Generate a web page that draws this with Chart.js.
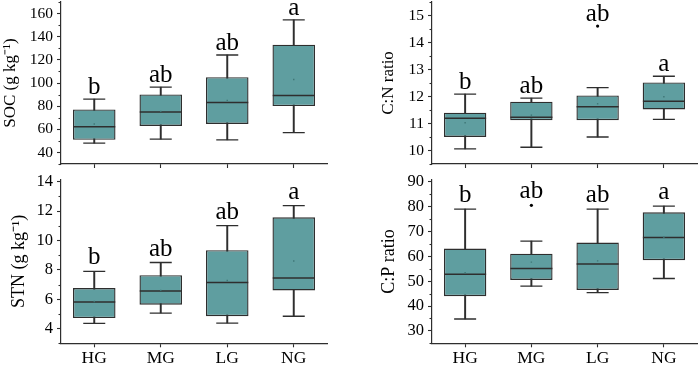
<!DOCTYPE html>
<html><head><meta charset="utf-8">
<script src="https://cdn.jsdelivr.net/npm/chart.js@4/dist/chart.umd.min.js"></script>
<style>
html,body{margin:0;padding:0;background:#fff;}
#wrap{position:relative;width:699px;height:366px;overflow:hidden;background:#fff;}
canvas{position:absolute;}
</style></head><body>
<div id="wrap">
<canvas id="c1" width="329" height="175" style="left:0;top:0"></canvas>
<canvas id="c2" width="339" height="175" style="left:360px;top:0"></canvas>
<canvas id="c3" width="329" height="191" style="left:0;top:175px"></canvas>
<canvas id="c4" width="339" height="191" style="left:360px;top:175px"></canvas>
</div>
<script>
const categories = ['HG', 'MG', 'LG', 'NG'];

// SOC (g kg-1)
const socLow  = [48.0, 51.5, 50.9, 57.2];
const socQ1   = [50.9, 62.9, 64.6, 80.1];
const socMed  = [62.1, 75.0, 83.2, 89.3];
const socQ3   = [77.2, 90.1, 105.0, 133.1];
const socHigh = [86.1, 96.4, 124.2, 154.6];
const socMean = [64.6, 75.5, 85.0, 103.0];
const socOut  = [null, null, null, null];
const socLetters = ['b', 'ab', 'ab', 'a'];
const socTicks = [40, 60, 80, 100, 120, 140, 160];

// C:N ratio
const cnLow  = [10.06, 10.12, 10.50, 11.15];
const cnQ1   = [10.50, 11.12, 11.12, 11.52];
const cnMed  = [11.19, 11.23, 11.62, 11.82];
const cnQ3   = [11.40, 11.81, 12.04, 12.52];
const cnHigh = [12.09, 11.94, 12.33, 12.75];
const cnMean = [11.03, 11.31, 11.73, 11.99];
const cnOut  = [null, null, 14.61, null];
const cnLetters = ['b', 'ab', 'ab', 'a'];
const cnTicks = [10, 11, 12, 13, 14, 15];

// STN (g kg-1)
const stnLow  = [4.36, 5.06, 4.38, 4.84];
const stnQ1   = [4.72, 5.63, 4.84, 6.60];
const stnMed  = [5.81, 6.56, 7.14, 7.44];
const stnQ3   = [6.76, 7.64, 9.34, 11.58];
const stnHigh = [7.89, 8.50, 11.01, 12.37];
const stnMean = [5.85, 6.60, 7.28, 8.60];
const stnOut  = [null, null, null, null];
const stnLetters = ['b', 'ab', 'ab', 'a'];
const stnTicks = [4, 6, 8, 10, 12, 14];

// C:P ratio
const cpLow  = [34.8, 48.0, 45.4, 51.1];
const cpQ1   = [44.0, 50.5, 46.5, 58.5];
const cpMed  = [52.8, 55.1, 57.0, 67.6];
const cpQ3   = [63.2, 61.1, 65.6, 77.8];
const cpHigh = [79.1, 66.2, 79.1, 80.3];
const cpMean = [53.4, 57.7, 58.2, 67.7];
const cpOut  = [null, 80.6, null, null];
const cpLetters = ['b', 'ab', 'ab', 'a'];
const cpTicks = [30, 40, 50, 60, 70, 80, 90];

const SERIF = '"Liberation Serif", "Times New Roman", serif';
const LINE = '#2e2e2e';
const FILL = '#5f9ea0';

const decor = {
  id: 'decor',
  afterDraw(chart, args, o) {
    const ctx = chart.ctx;
    const xs = chart.scales.x, ys = chart.scales.y;
    const left = chart.chartArea.left;
    ctx.save();
    // minor ticks
    ctx.strokeStyle = LINE; ctx.lineWidth = 1.1;
    const step = o.majors[1] - o.majors[0];
    for (let v = o.majors[0] - step / 2; v <= ys.max + 1e-9; v += step) {
      if (v < ys.min - 1e-9) continue;
      const y = Math.round(ys.getPixelForValue(v)) + 0.5;
      ctx.beginPath(); ctx.moveTo(left - 2.5, y); ctx.lineTo(left, y); ctx.stroke();
    }
    // significance letters
    ctx.fillStyle = '#000';
    ctx.font = '25px ' + SERIF;
    ctx.textAlign = 'center'; ctx.textBaseline = 'alphabetic';
    o.letters.forEach((t, i) => {
      let top = o.high[i];
      if (o.out[i] != null && o.out[i] > top) top = o.out[i];
      ctx.fillText(t, xs.getPixelForValue(i), ys.getPixelForValue(top) - o.gap);
    });
    ctx.restore();
  }
};

function panel(id, s) {
  const box = s.q1.map((v, i) => [v, s.q3[i]]);
  const whisk = s.low.map((v, i) => [v, s.high[i]]);
  new Chart(document.getElementById(id), {
    type: 'bar',
    data: {
      labels: categories,
      datasets: [
        { type: 'line', data: s.out, showLine: false, pointStyle: 'circle', pointRadius: 1.6,
          pointBackgroundColor: '#000', pointBorderWidth: 0, order: 0 },
        { type: 'line', data: s.mean, showLine: false, pointStyle: 'rect', pointRadius: 1,
          pointBackgroundColor: '#3f7676', pointBorderWidth: 0, order: 1 },
        { type: 'line', data: s.med, showLine: false, pointStyle: 'line', pointRadius: s.medR,
          pointBorderColor: LINE, pointBorderWidth: 1.5, order: 2 },
        { type: 'line', data: s.low, showLine: false, pointStyle: 'line', pointRadius: 11,
          pointBorderColor: LINE, pointBorderWidth: 1.3, order: 3 },
        { type: 'line', data: s.high, showLine: false, pointStyle: 'line', pointRadius: 11,
          pointBorderColor: LINE, pointBorderWidth: 1.3, order: 3 },
        { type: 'bar', data: box, backgroundColor: FILL, borderColor: LINE, borderWidth: 1.4,
          borderSkipped: false, grouped: false, barPercentage: 0.64, categoryPercentage: 1, order: 4 },
        { type: 'bar', data: whisk, backgroundColor: LINE, borderWidth: 0,
          grouped: false, barThickness: 1.3, order: 5 }
      ]
    },
    options: {
      responsive: false, animation: false, devicePixelRatio: 1,
      events: [],
      layout: { padding: s.pad, autoPadding: false },
      plugins: {
        legend: { display: false }, tooltip: { enabled: false },
        decor: { majors: s.ticks, letters: s.letters, high: s.high, out: s.out, gap: s.gap }
      },
      scales: {
        x: {
          offset: true,
          afterFit: sc => { sc.height = s.xh; sc.paddingLeft = 0; sc.paddingRight = 0; },
          ticks: { display: s.showX, color: '#000', padding: 1, font: { family: SERIF, size: 17.5 } },
          grid: { offset: false, drawOnChartArea: false, drawTicks: true, tickLength: 4,
                  tickColor: LINE, tickWidth: 1.1 },
          border: { display: true, color: LINE, width: 1.2 }
        },
        y: {
          min: s.min, max: s.max,
          afterFit: sc => { sc.width = s.yw; sc.paddingTop = 0; sc.paddingBottom = 0; },
          afterBuildTicks: sc => { sc.ticks = s.ticks.map(v => ({ value: v })); },
          ticks: { color: '#000', padding: 4, font: { family: SERIF, size: s.tickFont } },
          grid: { drawOnChartArea: false, drawTicks: true, tickLength: 4, tickColor: LINE, tickWidth: 1.1 },
          border: { display: true, color: LINE, width: 1.2 },
          title: { display: true, text: s.title, color: '#000',
                   font: { family: SERIF, size: s.titleFont }, padding: { top: s.tpad, bottom: 0 } }
        }
      }
    },
    plugins: [decor]
  });
}

panel('c1', { low: socLow, q1: socQ1, med: socMed, q3: socQ3, high: socHigh, mean: socMean, out: socOut,
  letters: socLetters, ticks: socTicks, min: 30, max: 170, title: 'SOC (g kg\u207B\u00B9)',
  pad: { top: 2, right: 2, left: 0, bottom: 0 }, xh: 11, yw: 61, showX: false,
  tickFont: 15.5, titleFont: 17, tpad: 0, medR: 21, gap: 5 });

panel('c2', { low: cnLow, q1: cnQ1, med: cnMed, q3: cnQ3, high: cnHigh, mean: cnMean, out: cnOut,
  letters: cnLetters, ticks: cnTicks, min: 9.5, max: 15.5, title: 'C:N ratio',
  pad: { top: 2, right: 2, left: 0, bottom: 0 }, xh: 11, yw: 72, showX: false,
  tickFont: 15.5, titleFont: 17, tpad: 18, medR: 21, gap: 5 });

panel('c3', { low: stnLow, q1: stnQ1, med: stnMed, q3: stnQ3, high: stnHigh, mean: stnMean, out: stnOut,
  letters: stnLetters, ticks: stnTicks, min: 3, max: 14.15, title: 'STN (g kg\u207B\u00B9)',
  pad: { top: 4.5, right: 2, left: 0, bottom: 0 }, xh: 22.7, yw: 61, showX: true,
  tickFont: 16.5, titleFont: 18, tpad: 8, medR: 21, gap: 7 });

panel('c4', { low: cpLow, q1: cpQ1, med: cpMed, q3: cpQ3, high: cpHigh, mean: cpMean, out: cpOut,
  letters: cpLetters, ticks: cpTicks, min: 25, max: 91, title: 'C:P ratio',
  pad: { top: 4.5, right: 2, left: 0, bottom: 0 }, xh: 22.7, yw: 72, showX: true,
  tickFont: 16.5, titleFont: 18, tpad: 18, medR: 21, gap: 7 });
</script>
</body></html>
